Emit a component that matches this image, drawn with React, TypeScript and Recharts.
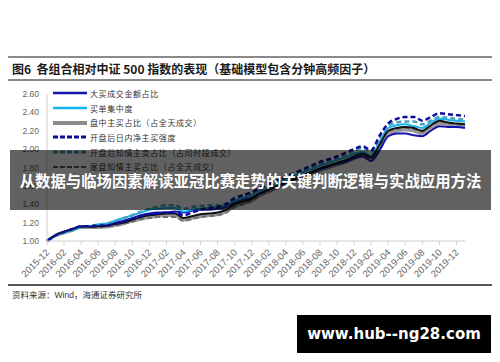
import React from 'react';
import { LineChart, Line, XAxis, YAxis } from 'recharts';

// months 2015-12 .. 2020-01
const months = [
  '2015-12', '2016-01', '2016-02', '2016-03', '2016-04', '2016-05', '2016-06', '2016-07', '2016-08', '2016-09', '2016-10', '2016-11',
  '2016-12', '2017-01', '2017-02', '2017-03', '2017-04', '2017-05', '2017-06', '2017-07', '2017-08', '2017-09', '2017-10', '2017-11',
  '2017-12', '2018-01', '2018-02', '2018-03', '2018-04', '2018-05', '2018-06', '2018-07', '2018-08', '2018-09', '2018-10', '2018-11',
  '2018-12', '2019-01', '2019-02', '2019-03', '2019-04', '2019-05', '2019-06', '2019-07', '2019-08', '2019-09', '2019-10', '2019-11',
  '2019-12', '2020-01',
];

const bigBuyAmount = [
  1.00, 1.06, 1.10, 1.13, 1.16, 1.16, 1.17, 1.175, 1.20, 1.22, 1.25, 1.28,
  1.30, 1.31, 1.31, 1.32, 1.31, 1.33, 1.34, 1.34, 1.35, 1.37, 1.42, 1.45,
  1.47, 1.52, 1.56, 1.60, 1.63, 1.67, 1.71, 1.74, 1.78, 1.81, 1.84, 1.86,
  1.90, 1.92, 1.87, 1.99, 2.14, 2.17, 2.17, 2.15, 2.14, 2.20, 2.25, 2.24,
  2.24, 2.23,
];
const buyConcentration = [
  1.00, 1.06, 1.09, 1.12, 1.15, 1.16, 1.18, 1.19, 1.22, 1.25, 1.28, 1.31,
  1.34, 1.35, 1.36, 1.36, 1.32, 1.34, 1.35, 1.36, 1.37, 1.39, 1.44, 1.47,
  1.50, 1.55, 1.59, 1.63, 1.67, 1.71, 1.75, 1.78, 1.82, 1.85, 1.88, 1.91,
  1.95, 1.97, 1.93, 2.08, 2.23, 2.26, 2.27, 2.25, 2.23, 2.29, 2.33, 2.32,
  2.31, 2.30,
];
const intradayBuy = [
  1.00, 1.06, 1.09, 1.12, 1.15, 1.15, 1.15, 1.155, 1.17, 1.19, 1.22, 1.24,
  1.26, 1.27, 1.28, 1.28, 1.23, 1.25, 1.27, 1.28, 1.29, 1.32, 1.38, 1.41,
  1.44, 1.50, 1.54, 1.58, 1.62, 1.66, 1.70, 1.73, 1.77, 1.80, 1.83, 1.86,
  1.90, 1.93, 1.89, 2.02, 2.17, 2.20, 2.21, 2.20, 2.17, 2.23, 2.28, 2.27,
  2.26, 2.25,
];
const openNetBuy = [
  1.00, 1.06, 1.10, 1.13, 1.16, 1.16, 1.17, 1.17, 1.19, 1.21, 1.24, 1.27,
  1.29, 1.30, 1.31, 1.31, 1.28, 1.31, 1.34, 1.36, 1.37, 1.40, 1.47, 1.50,
  1.53, 1.58, 1.62, 1.66, 1.70, 1.74, 1.78, 1.82, 1.86, 1.89, 1.92, 1.96,
  2.00, 2.03, 1.99, 2.15, 2.28, 2.33, 2.35, 2.35, 2.31, 2.35, 2.39, 2.38,
  2.37, 2.36,
];
const openInformedSell = [
  1.00, 1.06, 1.10, 1.13, 1.16, 1.16, 1.18, 1.19, 1.22, 1.25, 1.28, 1.32,
  1.35, 1.37, 1.39, 1.39, 1.35, 1.37, 1.38, 1.39, 1.39, 1.41, 1.46, 1.49,
  1.52, 1.57, 1.61, 1.65, 1.69, 1.73, 1.77, 1.80, 1.84, 1.87, 1.90, 1.94,
  1.98, 2.01, 1.97, 2.11, 2.25, 2.29, 2.30, 2.30, 2.27, 2.31, 2.35, 2.34,
  2.33, 2.32,
];
const closeInformedBuy = [
  1.00, 1.06, 1.09, 1.12, 1.15, 1.15, 1.15, 1.16, 1.17, 1.19, 1.21, 1.24,
  1.25, 1.26, 1.26, 1.26, 1.22, 1.24, 1.26, 1.27, 1.28, 1.31, 1.37, 1.40,
  1.44, 1.50, 1.54, 1.58, 1.62, 1.66, 1.70, 1.74, 1.78, 1.81, 1.84, 1.87,
  1.91, 1.94, 1.90, 2.04, 2.19, 2.22, 2.23, 2.22, 2.19, 2.25, 2.30, 2.28,
  2.27, 2.26,
];
// black line, its legend row sits under the banner
const baseModel = [
  1.00, 1.065, 1.10, 1.13, 1.155, 1.155, 1.16, 1.165, 1.185, 1.20, 1.23, 1.26,
  1.28, 1.29, 1.30, 1.30, 1.25, 1.27, 1.29, 1.30, 1.31, 1.34, 1.40, 1.43,
  1.46, 1.52, 1.56, 1.60, 1.64, 1.68, 1.72, 1.75, 1.79, 1.82, 1.85, 1.88,
  1.92, 1.95, 1.91, 2.05, 2.20, 2.23, 2.24, 2.23, 2.20, 2.26, 2.31, 2.29,
  2.28, 2.27,
];

const yTicks = [1.0, 1.2, 1.4, 1.6, 1.8, 2.0, 2.2, 2.4, 2.6];

const data = months.map((m, i) => ({
  m,
  a: bigBuyAmount[i],
  b: buyConcentration[i],
  c: intradayBuy[i],
  d: openNetBuy[i],
  e: openInformedSell[i],
  f: closeInformedBuy[i],
  g: baseModel[i],
}));

const legendItems = [
  { name: '大买成交金额占比', color: '#1414a8', width: 2.5, dash: '' },
  { name: '买单集中度', color: '#10b4ee', width: 2.5, dash: '' },
  { name: '盘中主买占比（占全天成交）', color: '#8c8c8c', width: 4, dash: '' },
  { name: '开盘后日内净主买强度', color: '#0c0c98', width: 3, dash: '5 2' },
  { name: '开盘后知情主卖占比（占同时段成交）', color: '#3a8fa8', width: 3, dash: '5 2' },
  { name: '尾盘知情主买占比（占全天成交）', color: '#5a5a5a', width: 2, dash: '5 2' },
];

function XTick(props: any) {
  const { x, y, payload } = props;
  return (
    <text
      x={x + 3}
      y={y + 6}
      transform={`rotate(-45 ${x + 3} ${y + 6})`}
      textAnchor="end"
      fontSize={9.5}
      fill="#666"
      fontFamily="Liberation Sans, Arial, sans-serif"
    >
      {payload.value}
    </text>
  );
}

export default function App() {
  return (
    <div style={{ position: 'relative', width: 500, height: 362, margin: -8, background: '#fff', overflow: 'hidden' }}>
      <div style={{ position: 'absolute', left: 3, top: 56, width: 491, height: 2, background: '#8a8a8a' }} />
      <div
        style={{
          position: 'absolute', left: 12, top: 60, fontFamily: 'Noto Sans CJK SC', fontWeight: 700,
          fontSize: 12, color: '#1a1a1a', whiteSpace: 'nowrap', lineHeight: '18px',
        }}
      >
        图6&nbsp;&nbsp;各组合相对中证 500 指数的表现（基础模型包含分钟高频因子）
      </div>
      <div style={{ position: 'absolute', left: 3, top: 79, width: 491, height: 1.5, background: '#8a8a8a' }} />

      <div style={{ position: 'absolute', left: 0, top: 0 }}>
        <LineChart width={500} height={362} data={data} margin={{ top: 94, right: 35, bottom: 91, left: 0 }}>
          <XAxis
            dataKey="m"
            interval={1}
            tick={<XTick />}
            tickSize={4}
            height={30}
            stroke="#d0d0d0"
            tickLine={{ stroke: '#d0d0d0' }}
          />
          <YAxis
            domain={[1, 2.6]}
            ticks={yTicks}
            width={47}
            tickLine={false}
            stroke="#d0d0d0"
            tickFormatter={(v: number) => v.toFixed(2)}
            tick={{ fontSize: 8.5, fill: '#666', fontFamily: 'Liberation Sans, Arial, sans-serif' }}
          />
          <Line dataKey="c" type="monotone" stroke="#9a9a9a" strokeWidth={3.5} dot={false} isAnimationActive={false} />
          <Line dataKey="f" type="monotone" stroke="#6e6e6e" strokeWidth={2} strokeDasharray="5 3" dot={false} isAnimationActive={false} />
          <Line dataKey="a" type="monotone" stroke="#1414b4" strokeWidth={2} dot={false} isAnimationActive={false} />
          <Line dataKey="b" type="monotone" stroke="#10b4ee" strokeWidth={2} dot={false} isAnimationActive={false} />
          <Line dataKey="g" type="monotone" stroke="#111111" strokeWidth={2} dot={false} isAnimationActive={false} />
          <Line dataKey="e" type="monotone" stroke="#4aa3c2" strokeWidth={2.5} strokeDasharray="5 3" dot={false} isAnimationActive={false} />
          <Line dataKey="d" type="monotone" stroke="#0c0c9c" strokeWidth={2.5} strokeDasharray="5 3" dot={false} isAnimationActive={false} />
        </LineChart>
      </div>

      <div style={{ position: 'absolute', left: 53, top: 86 }}>
        {legendItems.map((it) => (
          <div key={it.name} style={{ display: 'flex', alignItems: 'center', height: 14.7 }}>
            <svg width={34} height={6} style={{ marginRight: 3 }}>
              <line x1={0} y1={3} x2={34} y2={3} stroke={it.color} strokeWidth={it.width} strokeDasharray={it.dash || undefined} />
            </svg>
            <span style={{ fontFamily: 'Noto Sans CJK SC', fontSize: 8, letterSpacing: 0.6, color: '#333', whiteSpace: 'nowrap' }}>
              {it.name}
            </span>
          </div>
        ))}
      </div>

      <div
        style={{
          position: 'absolute', left: 10, top: 150, width: 481, height: 60, background: 'rgba(0,0,0,0.62)',
          display: 'flex', alignItems: 'center', justifyContent: 'center',
        }}
      >
        <span style={{ fontFamily: 'Noto Sans CJK SC', fontWeight: 700, fontSize: 15.4, color: '#fff', whiteSpace: 'nowrap' }}>
          从数据与临场因素解读亚冠比赛走势的关键判断逻辑与实战应用方法
        </span>
      </div>

      <div style={{ position: 'absolute', left: 3, top: 284, width: 491, height: 1.5, background: '#555' }} />
      <div
        style={{
          position: 'absolute', left: 12, top: 288, fontFamily: 'Noto Sans CJK SC', fontSize: 8.5,
          color: '#333', whiteSpace: 'nowrap', lineHeight: '12px',
        }}
      >
        资料来源：<span style={{ fontFamily: 'Liberation Sans, Arial, sans-serif' }}>Wind</span>，海通证券研究所
      </div>

      <div
        style={{
          position: 'absolute', left: 297, top: 315, width: 194, height: 38, background: '#000',
          display: 'flex', alignItems: 'center', justifyContent: 'center',
        }}
      >
        <span style={{ fontFamily: 'DejaVu Sans', fontWeight: 700, fontSize: 15, color: '#fff', whiteSpace: 'nowrap' }}>
          www.hub--ng28.com
        </span>
      </div>
    </div>
  );
}
